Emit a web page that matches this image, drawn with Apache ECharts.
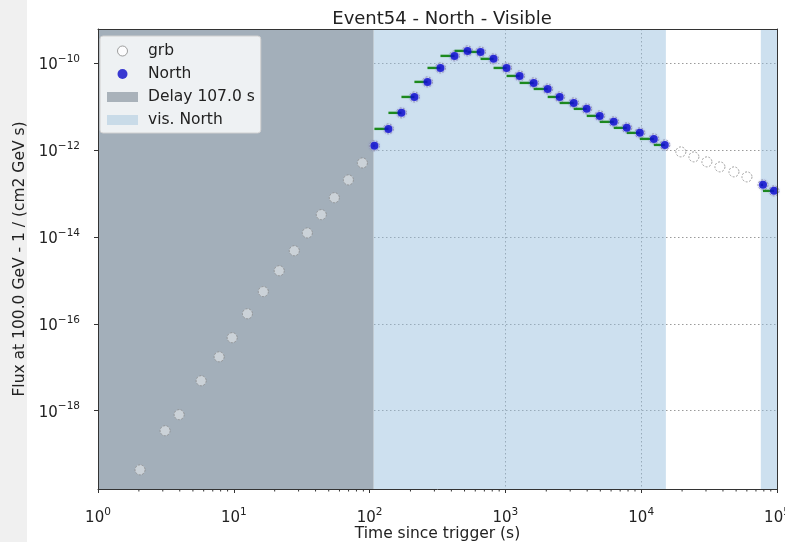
<!DOCTYPE html>
<html>
<head>
<meta charset="utf-8">
<script src="https://cdn.jsdelivr.net/npm/echarts@6/dist/echarts.min.js"></script>
<style>
  html, body { margin: 0; padding: 0; background: #ffffff; }
  #chart { width: 785px; height: 542px; }
</style>
</head>
<body>
<div id="chart"></div>
<script>
// Full GRB light curve: time since trigger (s) and flux at 100 GeV (1/(cm2 GeV s))
const grbTime = [2.04, 3.12, 3.96, 5.75, 7.80, 9.73, 12.6, 16.5, 21.6, 27.9, 34.8, 44.1, 55.0, 69.8, 88.5,
  108.5, 137.6, 171.6, 213.8, 266.8, 332.5, 421.9, 526.3, 656.1, 818.1, 1020, 1273, 1615, 2048, 2510,
  3185, 3970, 4951, 6280, 7830, 9770, 12390, 14930,
  19590, 24440, 30470, 38000, 48200, 60100, 78900, 95000];
const grbFlux = [4.37e-20, 3.47e-19, 8.13e-19, 4.90e-18, 1.74e-17, 4.79e-17, 1.70e-16, 5.50e-16, 1.66e-15, 4.79e-15, 1.23e-14, 3.24e-14, 7.94e-14, 2.04e-13, 5.01e-13,
  1.24e-12, 3.04e-12, 7.10e-12, 1.65e-11, 3.66e-11, 7.67e-11, 1.45e-10, 1.89e-10, 1.79e-10, 1.24e-10, 7.67e-11, 5.02e-11, 3.47e-11, 2.52e-11, 1.65e-11,
  1.20e-11, 8.77e-12, 6.05e-12, 4.41e-12, 3.21e-12, 2.46e-12, 1.79e-12, 1.30e-12,
  8.99e-13, 6.90e-13, 5.30e-13, 4.06e-13, 3.12e-13, 2.39e-13, 1.57e-13, 1.14e-13];

// Points observed from the North site
const northTime = [108.5, 137.6, 171.6, 213.8, 266.8, 332.5, 421.9, 526.3, 656.1, 818.1, 1020, 1273, 1615, 2048, 2510,
  3185, 3970, 4951, 6280, 7830, 9770, 12390, 14930, 78900, 95000];
const northFlux = [1.24e-12, 3.04e-12, 7.10e-12, 1.65e-11, 3.66e-11, 7.67e-11, 1.45e-10, 1.89e-10, 1.79e-10, 1.24e-10, 7.67e-11, 5.02e-11, 3.47e-11, 2.52e-11, 1.65e-11,
  1.20e-11, 8.77e-12, 6.05e-12, 4.41e-12, 3.21e-12, 2.46e-12, 1.79e-12, 1.30e-12, 1.57e-13, 1.14e-13];

// Observation delay and visibility windows (s)
const delaySeconds = 107.0;
const visWindows = [[107, 15200], [76000, 100000]];

// Axis ranges and tick exponents
const xRange = [1, 1e5];
const yRange = [Math.pow(10, -19.8), Math.pow(10, -9.22)];
const xTickExponents = [0, 1, 2, 3, 4, 5];
const yTickExponents = [-18, -16, -14, -12, -10];
const yTickValues = yTickExponents.map(e => Math.pow(10, e));

const FONT = 'DejaVu Sans';
const INK = '#222222';

function windowOf(t) {
  return visWindows.findIndex(w => t >= w[0] && t <= w[1]);
}

// Horizontal bars: each detection spans back to the previous one in the same window
const northBars = northTime.map((t, i) => {
  const w = windowOf(t);
  const start = (i > 0 && windowOf(northTime[i - 1]) === w) ? northTime[i - 1] : visWindows[w][0];
  return [start, t, northFlux[i]];
});

// Log minor ticks on the time axis (2..9 x 10^n)
const xMinor = [];
for (let n = xTickExponents[0]; n < xTickExponents[xTickExponents.length - 1]; n++) {
  for (let k = 2; k <= 9; k++) xMinor.push([k * Math.pow(10, n), yRange[0]]);
}

function powLabel(v) {
  const e = Math.round(Math.log10(v));
  const s = e < 0 ? '\u2212' + (-e) : String(e);
  return '{b|10}{e|' + s + '}';
}

const richTicks = {
  b: { fontFamily: FONT, fontSize: 15, color: INK, verticalAlign: 'bottom' },
  e: { fontFamily: FONT, fontSize: 10.5, color: INK, verticalAlign: 'bottom', padding: [0, 0, 8, 0] }
};

const chart = echarts.init(document.getElementById('chart'), null, { renderer: 'canvas' });

const frameAxis = {
  type: 'log', logBase: 10,
  axisLine: { show: true, lineStyle: { color: '#333', width: 1 } },
  axisTick: { show: false }, axisLabel: { show: false }, splitLine: { show: false },
  z: 10
};
const gridLineStyle = { color: '#9a9a9a', type: [1.5, 2.5], width: 1 };

chart.setOption({
  animation: false,
  backgroundColor: '#ffffff',
  textStyle: { fontFamily: FONT },
  title: {
    text: 'Event54 - North - Visible',
    left: 437, top: 5, textAlign: 'center',
    textStyle: { fontFamily: FONT, fontSize: 18, fontWeight: 'normal', color: INK }
  },
  graphic: [{
    type: 'rect', left: 0, top: 0, z: -10,
    shape: { width: 27, height: 542 },
    style: { fill: '#f0f0f0' }
  }],
  grid: { left: 98, right: 8, top: 29, bottom: 53, containLabel: false, outerBoundsMode: 'none' },
  legend: {
    orient: 'vertical', left: 100, top: 36,
    padding: [7, 6, 5, 7],
    itemWidth: 31, itemHeight: 10, itemGap: 7,
    backgroundColor: 'rgba(255,255,255,0.82)',
    borderColor: '#d0d0d0', borderWidth: 1, borderRadius: 3,
    textStyle: { fontFamily: FONT, fontSize: 15.5, color: INK, padding: [0, 0, 0, 5] },
    data: [
      { name: 'grb', icon: 'circle', itemStyle: { color: '#ffffff', borderColor: '#888', borderWidth: 1 } },
      { name: 'North', icon: 'circle', itemStyle: { color: '#0a0ac8', borderWidth: 0 } },
      { name: 'Delay 107.0 s', icon: 'rect', itemStyle: { color: '#a9b2ba' } },
      { name: 'vis. North', icon: 'rect', itemStyle: { color: '#c9dbe8' } }
    ]
  },
  xAxis: [
    {
      type: 'log', logBase: 10, min: xRange[0], max: xRange[1], splitNumber: 5,
      name: 'Time since trigger (s)', nameLocation: 'middle', nameGap: 37, nameMoveOverlap: false,
      nameTextStyle: { fontFamily: FONT, fontSize: 15.5, color: INK },
      axisLine: { show: true, lineStyle: { color: '#333', width: 1 } },
      axisTick: { show: true, length: 4, inside: false, lineStyle: { color: '#333' } },
      axisLabel: { margin: 18, formatter: v => powLabel(v), rich: richTicks },
      splitLine: { show: false },
      z: 10
    },
    Object.assign({}, frameAxis, { position: 'top', min: xRange[0], max: xRange[1] }),
    {
      type: 'log', logBase: 10, min: xRange[0], max: xRange[1], splitNumber: 5, position: 'bottom',
      axisLine: { show: false }, axisTick: { show: false }, axisLabel: { show: false },
      splitLine: { show: true, lineStyle: gridLineStyle },
      z: 0
    }
  ],
  yAxis: [
    {
      type: 'log', logBase: 10, min: yRange[0], max: yRange[1],
      name: 'Flux at 100.0 GeV - 1 / (cm2 GeV s)', nameLocation: 'middle', nameGap: 68, nameRotate: 90,
      nameTextStyle: { fontFamily: FONT, fontSize: 15.5, color: INK },
      axisLine: { show: true, lineStyle: { color: '#333', width: 1 } },
      axisTick: { show: true, length: 4, inside: false, lineStyle: { color: '#333' }, customValues: yTickValues },
      axisLabel: { margin: 18, customValues: yTickValues, formatter: v => powLabel(v), rich: richTicks },
      splitLine: { show: false },
      z: 10
    },
    Object.assign({}, frameAxis, { position: 'right', min: yRange[0], max: yRange[1] }),
    {
      type: 'log', logBase: 10, min: yRange[0], max: yRange[1], position: 'left',
      axisLine: { show: false },
      axisTick: { show: false, customValues: yTickValues },
      axisLabel: { show: false, customValues: yTickValues },
      splitLine: { show: true, lineStyle: gridLineStyle },
      z: 0
    }
  ],
  series: [
    {
      name: 'vis. North', type: 'line', data: [], color: '#c9dbe8', z: 1,
      markArea: {
        silent: true,
        itemStyle: { color: 'rgba(150,190,222,0.48)' },
        data: visWindows.map(w => [{ xAxis: w[0] }, { xAxis: w[1] }])
      }
    },
    {
      name: 'Delay 107.0 s', type: 'line', data: [], color: '#a9b2ba', z: 1,
      markArea: {
        silent: true,
        itemStyle: { color: '#a3afba' },
        data: [[{ xAxis: xRange[0] }, { xAxis: delaySeconds }]]
      }
    },
    {
      name: 'grb', type: 'scatter', z: 3,
      symbol: 'circle', symbolSize: 10,
      itemStyle: { color: 'rgba(255,255,255,0.55)', borderColor: '#8a8a8a', borderWidth: 1, borderType: [2, 1.5] },
      data: grbTime.map((t, i) => [t, grbFlux[i]])
    },
    {
      name: 'North bars', type: 'custom', z: 4,
      encode: { x: [0, 1], y: 2 },
      renderItem: (params, api) => {
        const p0 = api.coord([api.value(0), api.value(2)]);
        const p1 = api.coord([api.value(1), api.value(2)]);
        return { type: 'line', shape: { x1: p0[0], y1: p0[1], x2: p1[0], y2: p1[1] },
          style: { stroke: '#1d8a1d', lineWidth: 2.4 } };
      },
      data: northBars
    },
    {
      name: 'North', type: 'scatter', z: 5,
      symbol: 'circle', symbolSize: 8,
      itemStyle: { color: '#0a0ac8', shadowBlur: 3, shadowColor: 'rgba(60,60,255,0.6)' },
      data: northTime.map((t, i) => [t, northFlux[i]])
    },
    {
      name: 'minor ticks', type: 'custom', z: 10, clip: false, silent: true,
      renderItem: (params, api) => {
        const p = api.coord([api.value(0), api.value(1)]);
        return { type: 'line', shape: { x1: p[0], y1: p[1], x2: p[0], y2: p[1] + 2.5 },
          style: { stroke: '#333', lineWidth: 1 } };
      },
      data: xMinor
    }
  ]
});
</script>
</body>
</html>
